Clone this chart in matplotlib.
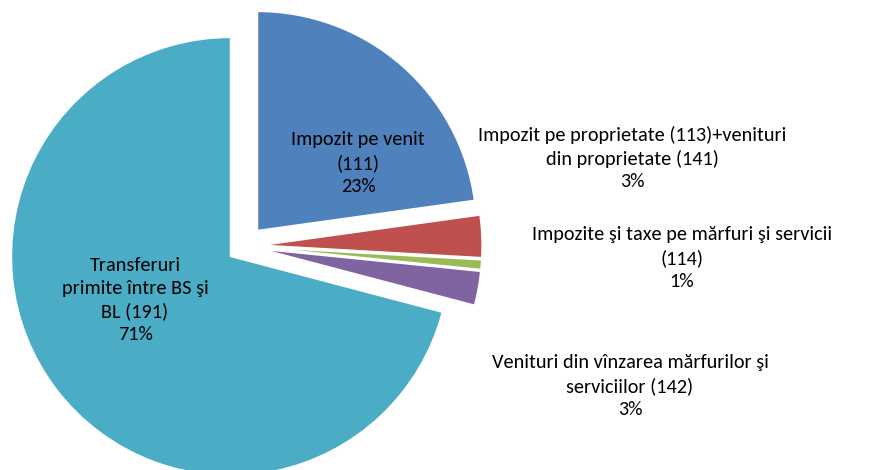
import matplotlib
matplotlib.use("Agg")
import matplotlib.pyplot as plt
from matplotlib import font_manager

# shares (angles of the slices)
names = ["Impozit pe venit\n(111)",
         "Impozit pe proprietate (113)+venituri\ndin proprietate (141)",
         "Impozite şi taxe pe mărfuri şi servicii\n(114)",
         "Venituri din vînzarea mărfurilor şi\nserviciilor (142)",
         "Transferuri\nprimite între BS şi\nBL (191)"]
shares = [22.8, 3.1, 0.7, 2.5, 70.9]
pct_labels = ["23%", "3%", "1%", "3%", "71%"]
colors = ["#4F81BD", "#C0504D", "#9BBB59", "#8064A2", "#4BACC6"]
explode = [0.094, 0.087, 0.087, 0.087, 0.078]

W, H, DPI = 877, 470, 100
CX, CY, R = 244, 246, 219   # pie centre / radius in pixels

installed = {f.name for f in font_manager.fontManager.ttflist}
if "Carlito" in installed:
    plt.rcParams['font.family'] = ['Carlito', 'DejaVu Sans']
    FS = 14.6
else:
    plt.rcParams['font.family'] = ['Lato', 'DejaVu Sans']
    FS = 13.0

fig = plt.figure(figsize=(W / DPI, H / DPI), dpi=DPI)
ax = fig.add_axes([0, 0, 1, 1])
ax.pie(shares, colors=colors, explode=explode, startangle=90,
       counterclock=False, radius=1.0,
       wedgeprops=dict(edgecolor="white", linewidth=1))
ax.set_xlim(-CX / R, (W - CX) / R)
ax.set_ylim(-(H - CY) / R, CY / R)
ax.set_aspect("auto")
ax.axis("off")

# label positions in pixels (x centre, y centre from top)
label_pos = [(358, 163), (632, 158), (682, 258), (630, 386), (135, 300)]
for i in range(len(names)):
    x, y = label_pos[i]
    ax.text(x / W, 1 - y / H, names[i] + "\n" + pct_labels[i],
            transform=ax.transAxes, ha="center", va="center",
            fontsize=FS, color="black", linespacing=1.4)

fig.savefig("out.png", dpi=DPI)
